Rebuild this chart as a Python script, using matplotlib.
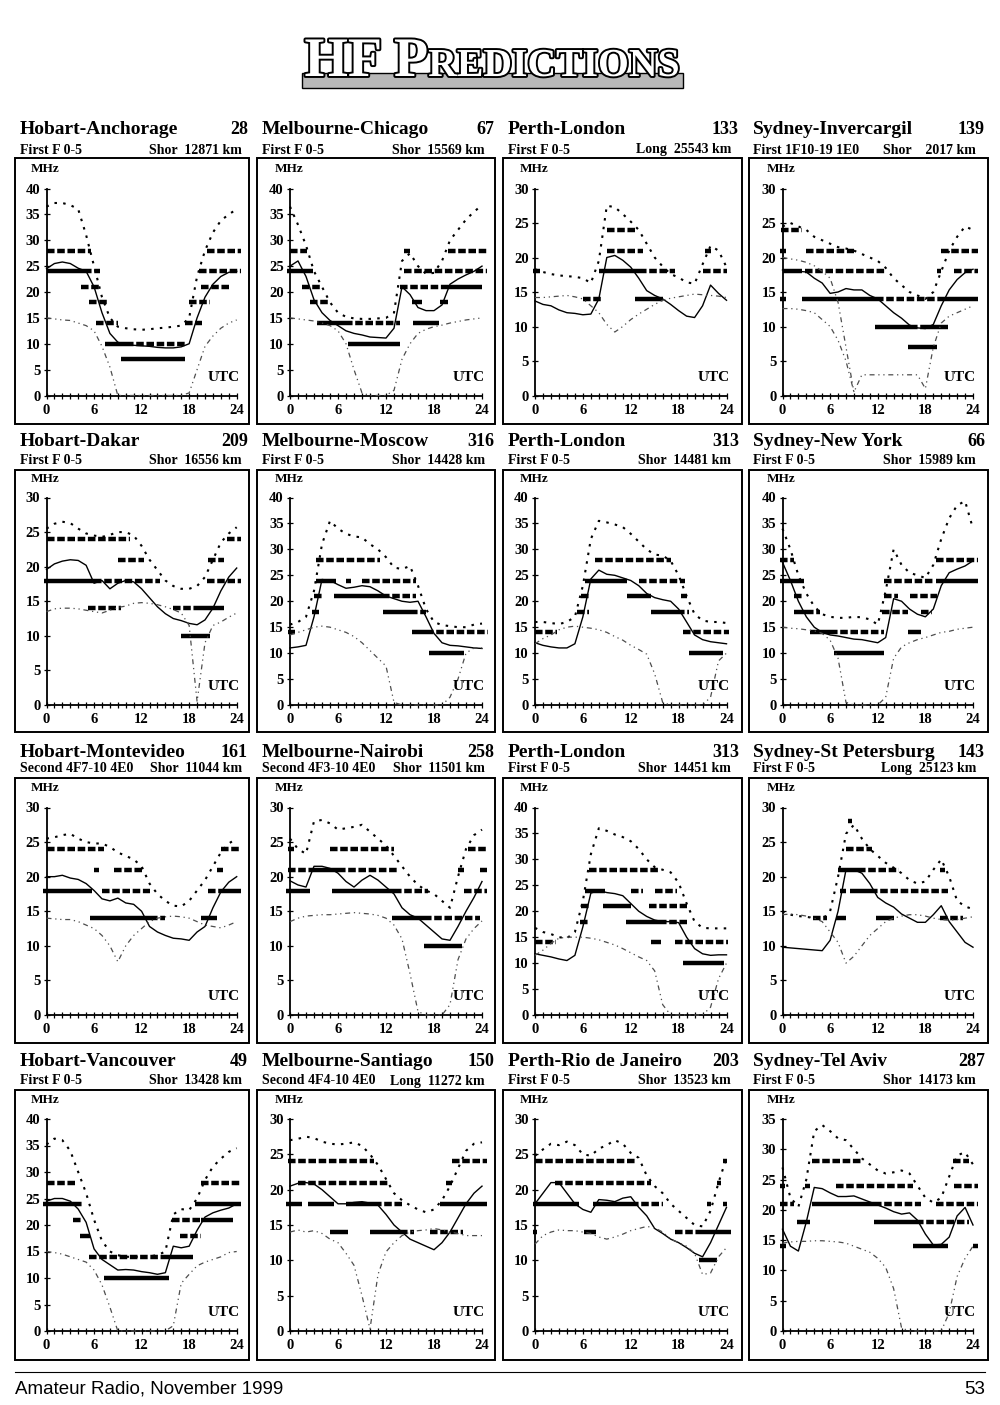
import matplotlib
matplotlib.use("Agg")
import matplotlib.pyplot as plt
import matplotlib.patheffects as pe
from matplotlib.patches import Rectangle
from matplotlib.lines import Line2D

# ---- data ----
hours = list(range(25))

titles = ["Hobart-Anchorage", "Melbourne-Chicago", "Perth-London", "Sydney-Invercargil",
          "Hobart-Dakar", "Melbourne-Moscow", "Perth-London", "Sydney-New York",
          "Hobart-Montevideo", "Melbourne-Nairobi", "Perth-London", "Sydney-St Petersburg",
          "Hobart-Vancouver", "Melbourne-Santiago", "Perth-Rio de Janeiro", "Sydney-Tel Aviv"]
numbers = ["28", "67", "133", "139", "209", "316", "313", "66",
           "161", "258", "313", "143", "49", "150", "203", "287"]
modes = ["First F 0-5", "First F 0-5", "First F 0-5", "First 1F10-19 1E0",
         "First F 0-5", "First F 0-5", "First F 0-5", "First F 0-5",
         "Second 4F7-10 4E0", "Second 4F3-10 4E0", "First F 0-5", "First F 0-5",
         "First F 0-5", "Second 4F4-10 4E0", "First F 0-5", "First F 0-5"]
paths = ["Shor  12871 km", "Shor  15569 km", "Long  25543 km", "Shor    2017 km",
         "Shor  16556 km", "Shor  14428 km", "Shor  14481 km", "Shor  15989 km",
         "Shor  11044 km", "Shor  11501 km", "Shor  14451 km", "Long  25123 km",
         "Shor  13428 km", "Long  11272 km", "Shor  13523 km", "Shor  14173 km"]
ymax = [40, 40, 30, 30, 30, 40, 40, 40, 30, 30, 40, 30, 40, 30, 30, 35]

# upper (dotted) curve, hourly 0..24 UTC
muf = [
    [36.5, 37.2, 37.2, 36.8, 36, 31, 25, 19, 15, 13.3, 13, 12.8, 12.7, 12.8, 13, 13.1, 13.3, 13.5, 15, 23, 28, 31.5, 33.8, 35, 36],
    [36.5, 33, 29, 24, 21, 18, 16, 15.2, 14.9, 14.8, 14.8, 14.9, 15, 16, 26, 27.5, 25, 23.5, 23.7, 26, 30, 32, 34, 35.5, 36.8],
    [18.3, 17.9, 17.6, 17.4, 17.3, 17.2, 17, 16.3, 19.5, 27.5, 27.3, 26.3, 25.2, 24, 22, 20, 18.7, 17.6, 17.1, 16.4, 16.2, 19, 21.7, 21, 18.6],
    [24.5, 25, 24.5, 24, 23, 22.5, 22, 21.5, 21.3, 21, 20.5, 20, 19.5, 18.5, 17, 16, 15, 14.5, 14, 15, 18, 21, 23, 24.5, 24],
    [25.5, 26.2, 26.5, 26.3, 25.5, 24.8, 24.5, 24.3, 24.6, 25, 25, 24.5, 23, 21, 19.5, 18, 17.2, 16.8, 16.8, 17.2, 18.5, 21, 23.5, 24.8, 25.7],
    [15.5, 16, 17, 22, 31, 35.5, 34, 33, 32.5, 32.3, 31, 30, 28.5, 26.5, 26.2, 26.8, 23, 18.5, 16, 15.4, 15.2, 15, 15, 15.5, 15.7],
    [16, 16, 15.8, 15.6, 16, 17, 23, 32, 35.5, 35.2, 34.8, 34.3, 33, 31.5, 30, 29, 28.8, 27.8, 25, 21, 17.5, 16.3, 16, 16, 15.8],
    [34, 30, 25, 21.5, 19, 17.5, 17, 16.8, 16.8, 17, 16.9, 16.5, 15.5, 22, 30, 27, 25.5, 25, 24.5, 27, 32, 36, 38.5, 39.3, 34],
    [25.5, 25.7, 26, 26.2, 25.5, 25, 24.8, 24.8, 24.3, 23.5, 23, 22.5, 21.5, 19, 17.5, 16.5, 15.8, 15.7, 16.5, 18, 19.5, 21.5, 23.5, 24.8, 25.5],
    [25.5, 24, 23.3, 28, 28.2, 27.7, 26.8, 27, 27.2, 27.5, 26.5, 25.5, 24.5, 23, 21.5, 20, 18.8, 18, 17.5, 16.5, 15.5, 20, 24, 26, 26.8],
    [16.8, 16, 15.6, 15, 14.8, 16, 22, 31, 36, 35.5, 34.8, 34.3, 33.5, 32, 30, 28.5, 28, 27.5, 25.5, 21.5, 18, 16.8, 16.7, 16.7, 16.7],
    [15, 14.5, 14.3, 14.2, 14, 13.8, 15, 20, 26.2, 27.5, 25.5, 24, 23, 22, 21.3, 20.5, 19.5, 19, 19.3, 21, 22.5, 20, 16.5, 15.7, 15.3],
    [35.2, 36.3, 36, 34, 30, 26, 21, 17, 15, 14.3, 14, 14, 14, 14.1, 14.3, 15, 22, 23, 22.8, 25, 28.5, 31, 32.5, 33.8, 34.5],
    [27, 27.2, 27.5, 27.3, 26.8, 26.5, 26.4, 26.5, 26.7, 26.2, 25, 23.5, 21.5, 19.5, 18.5, 17.8, 17.2, 16.8, 17.2, 18.5, 20.5, 23, 25.5, 26.5, 26.7],
    [24.8, 25.7, 26.5, 26.3, 26.8, 26.3, 25, 24.8, 25.8, 26.3, 27, 26.5, 25.2, 24.5, 22, 20.5, 19.5, 18, 17, 16, 15, 14.8, 17, 21, 24.5],
    [27, 22, 20.5, 25, 33, 34, 33, 31.8, 31.5, 30, 28.5, 27.5, 26.5, 26, 26.2, 26.5, 26, 24, 22, 21.2, 22, 25.5, 29, 29.5, 27.5],
]

# middle (solid) curve
med = [
    [24.5, 25.5, 25.8, 25.5, 24.6, 24, 21, 16, 12, 10.3, 9.8, 9.7, 9.6, 9.5, 9.3, 9.2, 9.2, 9.4, 10, 15, 19, 21.5, 23, 23.8, 24],
    [25, 26, 23, 18.5, 16, 14.5, 13.5, 12.5, 12, 11.7, 11.3, 11.2, 11.1, 13, 21, 19.5, 17, 16.4, 16.4, 17.5, 21.5, 22.5, 23.3, 24, 25],
    [13.7, 13.2, 13, 12.4, 12, 11.9, 11.7, 11.8, 14, 20, 20.3, 19.6, 18.6, 17, 15.2, 14.5, 14, 13.2, 12.3, 11.5, 11.3, 13, 16, 14.8, 13.8],
    [18.2, 18.1, 18, 17.9, 17, 16.3, 14.8, 15, 15.5, 15.3, 15.3, 14.5, 14, 13, 12, 11.2, 10.2, 9.8, 9.7, 10.3, 13, 15.3, 16.8, 17.8, 18.3],
    [19.6, 20.4, 20.8, 21, 20.9, 20.2, 17.6, 18, 16.8, 17.6, 18, 17.8, 16.8, 15.5, 14.2, 13.2, 12.5, 12.2, 11.8, 11.6, 12.3, 14, 16.5, 18.5, 19.8],
    [11, 11.2, 11.5, 17, 24.2, 24, 23.2, 22.5, 22.7, 23, 22.8, 22, 21, 20.5, 20, 19.8, 20, 17, 13.8, 12, 11.5, 11.4, 11.2, 11, 10.9],
    [12, 11.5, 11.2, 11, 11, 11.8, 17, 24.3, 26, 25.2, 25, 24.5, 24, 23, 21.5, 20.7, 20.3, 20, 18.5, 16, 13.5, 12.6, 12.2, 12, 11.8],
    [27.5, 24, 20, 17, 15, 14, 13.5, 13.3, 13, 12.7, 12.6, 12.3, 12, 13, 20.5, 20, 18.5, 17.5, 17, 18.5, 23, 25.5, 26.2, 26.8, 27.8],
    [20, 20, 20.2, 19.8, 19.6, 19, 18, 16.8, 16.5, 16.9, 16.2, 16, 15, 12.8, 12, 11.5, 11.1, 11, 10.8, 12, 12.8, 15.5, 17.8, 19.2, 20],
    [19.4, 18.8, 18.5, 21.5, 21.5, 21.2, 20.5, 19.3, 18.5, 19.5, 20.2, 19.5, 18.5, 17.5, 15.5, 14.5, 14, 13, 12, 11, 10.8, 12.8, 15, 17, 19.3],
    [11.8, 11.5, 11.2, 10.8, 10.5, 11.5, 17, 23.5, 24, 23.6, 23.4, 23, 21.5, 20, 19, 18.3, 18, 18, 17.8, 15, 12.8, 11.8, 11.5, 11.6, 11.6],
    [9.8, 9.7, 9.6, 9.5, 9.4, 9.3, 10.8, 15, 21, 21, 20.5, 19, 17, 16.2, 15.6, 14.6, 14, 13.4, 13.4, 14.5, 15.8, 13.5, 12, 10.5, 9.8],
    [24.5, 25, 25, 24.5, 23, 20.5, 15.5, 13.5, 12.5, 11.5, 11.6, 11.5, 11.2, 11, 10.7, 11, 16, 15.7, 16, 19, 21.5, 22.3, 22.8, 23.2, 24],
    [20.5, 20.9, 21, 20.8, 20, 19, 18, 18, 18.2, 18.3, 18.1, 17.8, 16.5, 15, 14, 13, 12.5, 12, 11.5, 12.5, 14, 16, 18, 19.5, 20.5],
    [18, 19.5, 21, 21, 19.5, 18, 17.2, 16.8, 18.6, 18.5, 18.3, 18.8, 19, 17.5, 16.3, 14.5, 13.8, 13, 12.5, 11.8, 11, 10.5, 12.5, 15, 17.5],
    [16.8, 14, 13.2, 18, 23.7, 23.5, 22.8, 22.2, 22.2, 22.3, 21.8, 21.3, 20.8, 20.3, 19.7, 19.3, 19.5, 18.3, 16, 14.2, 14.3, 15.5, 19, 20.4, 17.5],
]

# lower (dash-dot) curve
luf = [
    [15, 14.8, 14.6, 14.5, 14, 13.5, 12.5, 9.5, 5.5, 0, 0, 0, 0, 0, 0, 0, 0, 0, 0.5, 5, 9.5, 11.5, 13, 14, 14.6],
    [15, 14.8, 14.6, 14.4, 14, 13.5, 12.5, 10, 5, 0.5, 0, 0, 0, 1, 7, 10, 12, 12.8, 13.3, 13.6, 14, 14.3, 14.6, 14.8, 15],
    [14.2, 14.2, 14.3, 14.4, 14.5, 14.3, 14, 13, 12, 10.3, 9.2, 10, 11, 11.8, 12.5, 13.2, 13.8, 14.1, 14.3, 14.5, 14.7, 14.6, 14.5, 14.4, 14.2],
    [12.6, 12.6, 12.5, 12.3, 12, 11, 10, 8, 5, 0.5, 3, 3, 3, 3, 3, 3, 3, 3, 1, 7, 10.5, 11.5, 12, 12.5, 13],
    [13.5, 13.9, 14, 14, 13.9, 13.7, 13.5, 13.3, 13.7, 14.1, 14.3, 14.7, 14.8, 14.7, 14.5, 14.2, 13.8, 13.3, 11.5, 0.5, 9, 11.5, 12, 12.7, 13.3],
    [13.5, 14, 14.5, 15, 15.2, 15, 14.5, 14, 13.2, 12, 10.5, 9, 7.5, 0.5, 0, 0, 0, 0, 0, 0, 1.5, 5, 10, 11, 11],
    [11.8, 12.8, 13.5, 14.5, 15, 15.2, 15, 14.8, 14.5, 14, 13.2, 12.5, 11.5, 10.7, 9.8, 6, 0.5, 0, 0, 0, 0, 0, 1.5, 8.5, 10],
    [15, 14.8, 14.7, 14.5, 14.3, 13.8, 12.5, 9, 0.5, 0, 0, 0, 0, 1.5, 9, 11.2, 12, 12.6, 13, 13.5, 14, 14.2, 14.6, 14.8, 15],
    [14, 13.9, 13.8, 13.8, 13.5, 13, 12.5, 11.5, 10, 7.7, 10, 11.5, 12.5, 13.5, 14, 14.2, 14.3, 14.2, 14, 13.5, 13, 12.8, 12.6, 13, 13.5],
    [13.5, 14, 14.3, 14.4, 14.5, 14.5, 14.6, 14.7, 14.8, 14.7, 14.6, 14.4, 14, 13, 11, 6, 0.5, 0, 0, 0, 1.5, 8, 11, 12.5, 13.6],
    [11.5, 12.5, 13.8, 14.8, 15, 15, 15, 14.8, 14.5, 14, 13.5, 12.8, 12, 11.2, 10.5, 8.5, 2, 0, 0, 0, 0, 0, 1.5, 7, 10],
    [14.5, 14.6, 14.5, 14.3, 14, 13.5, 12, 10.5, 7.5, 8.5, 10, 11.5, 12.5, 13.5, 14, 14.3, 14.5, 14.5, 14.3, 14, 13.8, 13.7, 13.8, 14, 14.2],
    [15, 14.8, 14.5, 14, 13.5, 13, 11.5, 8.7, 4.5, 0, 0, 0, 0, 0, 0, 0, 1, 9, 10.7, 12.3, 13, 13.5, 14, 14.8, 15],
    [14, 14.3, 14, 14.2, 13.8, 13, 12.5, 11, 9.3, 5, 0.3, 8, 11.2, 12.5, 13.5, 14, 14.2, 14.3, 14.5, 14.3, 14, 13.8, 13.5, 13.5, 13.5],
    [12.3, 13.5, 14, 14.3, 14.2, 14.2, 14, 13.8, 13.3, 13, 13.3, 13.7, 14.2, 14.5, 14.8, 14.6, 14, 13, 12.5, 12, 11, 8, 8.2, 10.5, 11.8],
    [14.5, 14.7, 14.8, 14.8, 14.9, 14.9, 14.8, 14.7, 14.5, 14, 13.5, 13, 12, 10.5, 7, 0.5, 0, 0, 0, 0, 0, 3, 9, 12, 14],
]

# second lower curve, only on Sydney-Invercargil (hours 0..9)
luf_b = {3: [20, 19.8, 19.6, 19.3, 18.8, 18, 17, 13.5, 7, 0.5]}

# band bars (MHz, from UTC, to UTC)
bars_dashed = [
    [(28, 0, 5.6), (24, 4.7, 6.7), (21, 4.4, 6.7), (18, 5.4, 7.7), (14, 6.2, 9), (10, 10, 17.5),
     (14, 17.5, 19.6), (18, 18, 20.6), (21, 19.5, 23), (24, 19.2, 24.6), (28, 20.2, 24.6)],
    [(28, 0, 2.1), (21, 1.5, 3.8), (18, 2.5, 4.8), (14, 6.9, 13.8), (28, 14.3, 15), (24, 14.3, 24.6),
     (21, 13.8, 19.8), (28, 19.7, 24.6)],
    [(18, -0.2, 0.6), (14, 6, 8.3), (24, 9, 12.5), (21, 9, 13.5), (18, 13, 17.5), (21, 21.3, 22), (18, 21, 24)],
    [(24, -0.2, 2.5), (21, -0.3, 0.5), (14, -0.3, 0.5), (21, 3, 9), (18, 2.8, 13), (14, 11.8, 20.4),
     (10, 16, 18), (18, 19.5, 20), (21, 20, 24.6), (18, 21.6, 24.6)],
    [(24, 0, 10.5), (21, 9, 12.3), (18, 6, 14.3), (14, 5.2, 9.4), (14, 16, 19.5), (21, 20.4, 22.4),
     (18, 20.2, 24.6), (24, 22.8, 24.6)],
    [(14, -0.2, 0.6), (18, 2.8, 3.6), (21, 3, 4), (28, 3.3, 11.3), (24, 7, 7.6), (24, 9, 15.8),
     (21, 11.5, 15.8), (18, 15, 17), (14, 17, 24.8)],
    [(14, 0, 2.8), (18, 5.3, 6.8), (21, 5.8, 7), (24, 13, 18.8), (28, 7.5, 17), (18, 17.8, 19.3),
     (21, 18.3, 19), (14, 18.5, 24.3)],
    [(28, -0.3, 1.5), (21, 1.5, 2.5), (18, 3, 4.7), (14, 6, 12.8), (24, 12.8, 19), (21, 12.8, 14.5),
     (21, 16, 19.5), (18, 12.5, 15.8), (18, 17.5, 18.8), (28, 19.3, 24.6)],
    [(24, 0, 7.2), (21, 6, 6.6), (21, 8.5, 12), (18, 7, 13), (18, 20.4, 22.5), (14, 13, 15),
     (14, 19.5, 20), (21, 21.5, 22.3), (24, 22, 24.6)],
    [(24, -0.2, 0.5), (24, 5, 13), (21, -0.3, 3), (21, 6, 13.5), (21, 21, 21.8), (21, 23.8, 24.6),
     (18, 13, 17.2), (18, 21.8, 24.6), (14, 16.8, 23.8), (24, 22.3, 24.6)],
    [(14, 0, 2.6), (18, 5.7, 6.8), (21, 5.8, 7), (28, 6.8, 15.5), (24, 12, 13.5), (24, 15, 17.8),
     (21, 14.3, 19), (18, 15.5, 19.2), (14, 17.5, 24.2)],
    [(14, 3.8, 5.6), (28, 8.2, 8.8), (24, 8, 11.3), (21, 9.5, 14.7), (21, 19.8, 20.5), (18, 7.2, 8),
     (18, 11, 20.8), (14, 19.8, 22.8)],
    [(28, 0, 3.8), (24, 3.5, 4.5), (21, 3.3, 4.5), (14, 5.3, 14.6), (21, 15.8, 19.5), (18, 16.8, 19.5),
     (28, 19.5, 24.6)],
    [(24, -0.3, 10.5), (21, 1, 12.5), (21, 19.5, 20.2), (18, 10.5, 14), (18, 18.7, 19), (14, 13.7, 15.5),
     (14, 17.5, 21.6), (24, 20.2, 24.6)],
    [(24, 0, 12.5), (21, 2.5, 14.5), (18, 12, 16), (18, 21.5, 22), (18, 23.5, 24), (14, -0.3, 0.3),
     (14, 17.5, 21), (21, 22.8, 23.3), (24, 23.5, 24)],
    [(24, -0.3, 0.3), (21, -0.3, 1.5), (24, 2.8, 3.5), (28, 3.7, 10), (24, 6.7, 16.5), (21, 11.5, 17.5),
     (21, 19.3, 24.6), (18, 16.8, 23.5), (28, 21.5, 23.5), (24, 21.6, 24.6)],
]
bars_solid = [
    [(24, 0, 4.7), (10, 7.4, 10), (7, 9.4, 17.5)],
    [(24, -0.4, 2.9), (14, 3.4, 6.9), (10, 7.3, 13.8), (18, 15.3, 16.5), (18, 18.7, 19.7),
     (14, 15.4, 18.6), (21, 19.8, 24)],
    [(18, 8, 13), (14, 12.5, 16)],
    [(18, 0, 2.5), (14, 2.4, 11.8), (10, 11.6, 16), (10, 18, 20.8), (7, 15.8, 19.5), (14, 20.4, 24.6)],
    [(18, -0.3, 6), (14, 19.5, 22.4), (10, 17, 20.6)],
    [(24, 3.2, 5.7), (21, 5.5, 11.5), (18, 11.6, 15), (14, 15.3, 17), (10, 17.4, 21.8)],
    [(24, 6.3, 11.5), (21, 11.5, 14.5), (18, 14.5, 17.8), (10, 19.3, 23.6)],
    [(24, -0.3, 2.7), (18, 1.5, 3), (14, 3.5, 6), (10, 6.5, 12.8), (14, 15.8, 17.5), (24, 19.3, 24.6)],
    [(18, -0.5, 5.8), (14, 5.5, 13), (14, 20, 21.5), (18, 22.5, 24.6)],
    [(18, -0.5, 2.5), (21, 3, 6), (18, 5.3, 13), (14, 12.8, 16.8), (10, 16.8, 21.5)],
    [(24, 6.3, 8.8), (21, 8.5, 12), (18, 11.4, 15.5), (14, 14.5, 15.8), (10, 18.5, 23.7)],
    [(14, 6.7, 8), (14, 11.8, 14), (21, 7, 9.5), (18, 8.5, 11)],
    [(24, -0.5, 3.5), (18, 4.2, 5.5), (14, 14.6, 18.5), (10, 7.3, 15.5), (21, 19.5, 23.5), (24, 18.8, 24.6)],
    [(18, -0.5, 1.5), (18, 2.3, 5.5), (18, 7, 10.5), (18, 19, 24.6), (14, 5, 7.2), (14, 10, 13.7)],
    [(18, -0.3, 5.5), (18, 7.3, 12), (14, 6.2, 7.6), (14, 21, 24.6), (10, 20.5, 22.8)],
    [(14, -0.3, 0.4), (18, 1.8, 3.5), (21, 3.7, 11.5), (18, 11.5, 16.8), (14, 16.5, 20.8), (14, 24, 24.6)],
]

# ---- page layout (pixels on a 1000 x 1405 page) ----
W, H = 1000, 1405
SERIF = "Liberation Serif"

col_x0 = [46.5, 290, 535, 782.5]
col_x24 = [236.7, 482, 726.5, 973]
col_box = [(15, 249), (257, 495), (503, 742), (749, 988)]
col_left = [20, 262, 508, 753]
col_num = [248, 494, 739, 985]
col_path = [242, 485, 731, 976]
row_y0 = [395.5, 705, 1015, 1331]
row_ytop = [188.5, 497.5, 807.5, 1119]
row_box = [(158, 424), (470, 732), (778, 1043), (1090, 1360)]
row_title = [133.5, 446.5, 756.5, 1066.5]   # baselines
row_sub = [153.5, 463.5, 772.5, 1084.5]     # baselines


def fx(px):
    return px / W


def fy(py):
    return 1 - py / H


fig = plt.figure(figsize=(10, 14.05), dpi=100)
fig.patch.set_facecolor("white")

bar_kw = dict(color="k", lw=3.2, solid_capstyle="butt", dash_capstyle="butt", clip_on=False, zorder=2)

for i in range(16):
    r, c = divmod(i, 4)
    x0, x24 = col_x0[c], col_x24[c]
    y0, yt = row_y0[r], row_ytop[r]

    # frame around the panel
    bx0, bx1 = col_box[c]
    by0, by1 = row_box[r]
    fig.add_artist(Rectangle((fx(bx0), fy(by1)), (bx1 - bx0) / W, (by1 - by0) / H,
                             transform=fig.transFigure, fill=False, lw=1.4, ec="k"))

    fig.text(fx(col_left[c]), fy(row_title[r]), titles[i], ha="left", va="baseline",
             fontsize=14, fontweight="bold", family=SERIF)
    fig.text(fx(col_num[c]), fy(row_title[r]), numbers[i], ha="right", va="baseline",
             fontsize=13, fontweight="bold", family=SERIF)
    fig.text(fx(col_left[c]), fy(row_sub[r]), modes[i], ha="left", va="baseline",
             fontsize=10, fontweight="bold", family=SERIF)
    fig.text(fx(col_path[c]), fy(row_sub[r]), paths[i], ha="right", va="baseline",
             fontsize=10, fontweight="bold", family=SERIF)

    ax = fig.add_axes([fx(x0), fy(y0), (x24 - x0) / W, (y0 - yt) / H])
    ax.set_xlim(0, 24)
    ax.set_ylim(0, ymax[i])
    ax.patch.set_alpha(0)
    ax.spines["top"].set_visible(False)
    ax.spines["right"].set_visible(False)
    ax.spines["left"].set_linewidth(1.3)
    ax.spines["bottom"].set_linewidth(1.3)
    ax.set_xticks([0, 6, 12, 18, 24])
    ax.set_xticks(hours, minor=True)
    ax.set_yticks(range(0, ymax[i] + 1, 5))
    ax.tick_params(which="both", direction="inout", length=5, width=0.9)
    ax.tick_params(axis="x", pad=3.5)
    ax.tick_params(axis="y", pad=2)
    for lab in ax.get_xticklabels() + ax.get_yticklabels():
        lab.set_fontfamily(SERIF)
        lab.set_fontweight("bold")
        lab.set_fontsize(10.5)

    for f, a, b in bars_dashed[i]:
        ax.plot([a, b], [f, f], ls=(0, (1.7, 0.6)), **bar_kw)
    for f, a, b in bars_solid[i]:
        ax.plot([a, b], [f, f], ls="-", **bar_kw)

    ax.plot(hours, muf[i], color="k", lw=1.5, ls=(0, (1.2, 3.0)), clip_on=False, zorder=3)
    ax.plot(hours, med[i], color="k", lw=1.0, clip_on=False, zorder=3)
    ax.plot(hours, luf[i], color="0.3", lw=0.9, ls=(0, (4, 3, 1, 3, 1, 3)), clip_on=False, zorder=3)
    if i in luf_b:
        ax.plot(hours[:len(luf_b[i])], luf_b[i], color="0.3", lw=0.9,
                ls=(0, (4, 3, 1, 3, 1, 3)), clip_on=False, zorder=3)

    fig.text(fx(x0 - 1), fy(yt - 19), "MHz", ha="center", va="center",
             fontsize=9.5, fontweight="bold", family=SERIF)
    ax.text(1.015, 0.088, "UTC", transform=ax.transAxes, ha="right", va="center",
            fontsize=11, fontweight="bold", family=SERIF)

# ---- header logo ----
fig.add_artist(Rectangle((fx(302), fy(88)), (683 - 302) / W, 15 / H, transform=fig.transFigure,
                         facecolor="0.72", ec="k", lw=1.0))
outline = [pe.withStroke(linewidth=2.8, foreground="k")]
pieces = [("HF", 38), ("P", 38), ("REDICTIONS", 27)]
gaps = [12, 0, 0]
texts = [fig.text(0, fy(76), s, ha="left", va="baseline", fontsize=sz, family=SERIF,
                  fontweight="bold", color="white", path_effects=outline) for s, sz in pieces]
rend = fig.canvas.get_renderer()
total = sum(t.get_window_extent(rend).width for t in texts) + sum(gaps)
scale = 376 / total
for t, (s, sz) in zip(texts, pieces):
    t.set_fontsize(sz * scale)
xpos = 492.5 - 376 / 2
for t, g in zip(texts, gaps):
    t.set_x(fx(xpos))
    xpos += t.get_window_extent(rend).width + g

# ---- footer ----
fig.add_artist(Line2D([fx(15), fx(985)], [fy(1372), fy(1372)], transform=fig.transFigure,
                      color="k", lw=0.8))
fig.text(fx(15), fy(1389), "Amateur Radio, November 1999", ha="left", va="center",
         fontsize=13.5, family="Liberation Sans")
fig.text(fx(985), fy(1389), "53", ha="right", va="center", fontsize=13.5, family="Liberation Sans")

fig.savefig("out.png", dpi=100, facecolor="white")
